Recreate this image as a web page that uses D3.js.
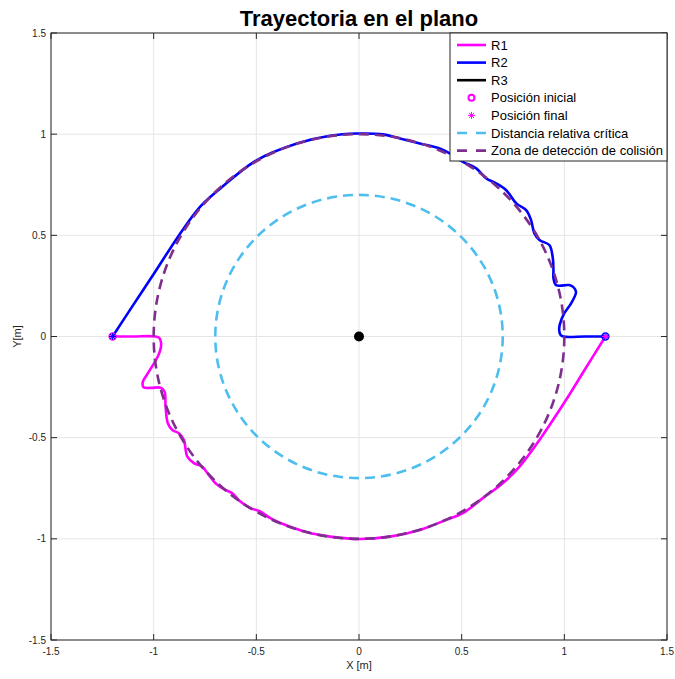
<!DOCTYPE html>
<html>
<head>
<meta charset="utf-8">
<script src="https://cdn.jsdelivr.net/npm/d3@7"></script>
<style>
  html, body { margin: 0; padding: 0; background: #fff; }
  svg { display: block; font-family: "Liberation Sans", Arial, sans-serif; }
</style>
</head>
<body>
<svg id="chart" width="675" height="679"></svg>
<script>
// Robot 1 trajectory: from (-1.2, 0) around the lower half of the detection zone to (1.2, 0)
const r1X = [-1.2, -1.1, -0.99, -0.972, -0.964, -0.966, -0.981, -1.024, -1.053, -1.049, -1.015, -0.966, -0.947, -0.942, -0.931, -0.909, -0.877, -0.853, -0.836, -0.804, -0.764, -0.732, -0.699, -0.650, -0.618, -0.578, -0.529, -0.481, -0.432, -0.383, -0.319, -0.254, -0.141, 0.005, 0.150, 0.296, 0.425, 0.506, 0.603, 0.700, 0.782, 0.879, 1.008, 1.1, 1.2];
const r1Y = [0, 0, 0, -0.008, -0.03, -0.06, -0.101, -0.175, -0.225, -0.251, -0.254, -0.253, -0.273, -0.347, -0.429, -0.462, -0.478, -0.511, -0.594, -0.626, -0.643, -0.684, -0.725, -0.758, -0.774, -0.816, -0.848, -0.865, -0.898, -0.922, -0.946, -0.968, -0.989, -1.001, -0.989, -0.956, -0.906, -0.873, -0.799, -0.725, -0.643, -0.511, -0.314, -0.163, 0];

// Robot 2 trajectory: from (1.2, 0) around the upper half to (-1.2, 0)
const r2X = [1.2, 1.1, 0.995, 0.98, 0.975, 0.978, 1.0, 1.033, 1.057, 1.044, 1.024, 0.960, 0.947, 0.947, 0.943, 0.927, 0.879, 0.854, 0.838, 0.814, 0.766, 0.717, 0.668, 0.620, 0.571, 0.506, 0.442, 0.393, 0.296, 0.199, 0.118, -0.011, -0.141, -0.302, -0.497, -0.675, -0.772, -0.869, -0.999, -1.1, -1.2];
const r2Y = [0, 0, 0, 0.01, 0.032, 0.06, 0.115, 0.164, 0.220, 0.244, 0.254, 0.254, 0.289, 0.328, 0.394, 0.452, 0.477, 0.510, 0.575, 0.625, 0.658, 0.723, 0.757, 0.781, 0.831, 0.863, 0.905, 0.929, 0.954, 0.979, 0.999, 1.003, 0.992, 0.954, 0.872, 0.732, 0.643, 0.512, 0.310, 0.155, 0];

// Robot 3 stays at the origin
const r3X = [0, 0];
const r3Y = [0, 0];

// Radii of the reference circles
const criticalRadius = 0.7;
const detectionRadius = 1.0;

// Axis ticks
const xTicks = [-1.5, -1, -0.5, 0, 0.5, 1, 1.5];
const yTicks = [-1.5, -1, -0.5, 0, 0.5, 1, 1.5];

const legendLabels = ["R1", "R2", "R3", "Posición inicial", "Posición final", "Distancia relativa crítica", "Zona de detección de colisión"];

const C = { r1: "#ff00ff", r2: "#0000ff", r3: "#000000", crit: "#4dbeee", zone: "#7e2f8e", axis: "#262626", grid: "#e5e5e5" };

const svg = d3.select("#chart");
const pL = 51, pR = 667, pT = 33, pB = 640;
const x = d3.scaleLinear().domain([-1.5, 1.5]).range([pL, pR]);
const y = d3.scaleLinear().domain([-1.5, 1.5]).range([pB, pT]);

// grid
const grid = svg.append("g");
grid.selectAll(".gx").data(xTicks).join("line")
  .attr("x1", d => x(d)).attr("x2", d => x(d)).attr("y1", pT).attr("y2", pB)
  .attr("stroke", C.grid).attr("stroke-width", 1);
grid.selectAll(".gy").data(yTicks).join("line")
  .attr("y1", d => y(d)).attr("y2", d => y(d)).attr("x1", pL).attr("x2", pR)
  .attr("stroke", C.grid).attr("stroke-width", 1);

// clip region for data
svg.append("clipPath").attr("id", "plotClip").append("rect")
  .attr("x", pL).attr("y", pT).attr("width", pR - pL).attr("height", pB - pT);
const plot = svg.append("g").attr("clip-path", "url(#plotClip)");

const line = d3.line().x(d => x(d[0])).y(d => y(d[1])).curve(d3.curveCatmullRom.alpha(0.5));
const zip = (a, b) => a.map((v, i) => [v, b[i]]);

plot.append("path").datum(zip(r1X, r1Y)).attr("d", line)
  .attr("fill", "none").attr("stroke", C.r1).attr("stroke-width", 2.6).attr("stroke-linejoin", "round");
plot.append("path").datum(zip(r2X, r2Y)).attr("d", line)
  .attr("fill", "none").attr("stroke", C.r2).attr("stroke-width", 2.6).attr("stroke-linejoin", "round");
plot.append("path").datum(zip(r3X, r3Y)).attr("d", line)
  .attr("fill", "none").attr("stroke", C.r3).attr("stroke-width", 2.6);

// markers
function asterisk(g, cx, cy, s, color) {
  const a = g.append("g").attr("stroke", color).attr("stroke-width", 1);
  a.append("line").attr("x1", cx - s).attr("x2", cx + s).attr("y1", cy).attr("y2", cy);
  a.append("line").attr("x1", cx).attr("x2", cx).attr("y1", cy - s).attr("y2", cy + s);
  const d = s * 0.72;
  a.append("line").attr("x1", cx - d).attr("x2", cx + d).attr("y1", cy - d).attr("y2", cy + d);
  a.append("line").attr("x1", cx - d).attr("x2", cx + d).attr("y1", cy + d).attr("y2", cy - d);
}
const starts = [[r1X[0], r1Y[0], C.r1], [r2X[0], r2Y[0], C.r2], [r3X[0], r3Y[0], C.r3]];
const ends = [[r1X[r1X.length - 1], r1Y[r1Y.length - 1], C.r1], [r2X[r2X.length - 1], r2Y[r2Y.length - 1], C.r2], [r3X[r3X.length - 1], r3Y[r3Y.length - 1], C.r3]];
starts.forEach(([px, py, c]) => {
  plot.append("circle").attr("cx", x(px)).attr("cy", y(py)).attr("r", c === C.r3 ? 4 : 3.2)
    .attr("fill", c === C.r3 ? c : "none").attr("stroke", c).attr("stroke-width", 2);
});
ends.forEach(([px, py, c]) => asterisk(plot, x(px), y(py), 3.5, c));

// reference circles
plot.append("ellipse").attr("cx", x(0)).attr("cy", y(0))
  .attr("rx", x(criticalRadius) - x(0)).attr("ry", y(0) - y(criticalRadius))
  .attr("fill", "none").attr("stroke", C.crit).attr("stroke-width", 2.6).attr("stroke-dasharray", "10,6");
plot.append("ellipse").attr("cx", x(0)).attr("cy", y(0))
  .attr("rx", x(detectionRadius) - x(0)).attr("ry", y(0) - y(detectionRadius))
  .attr("fill", "none").attr("stroke", C.zone).attr("stroke-width", 2.6).attr("stroke-dasharray", "10,6");

// axes box with inward ticks
const ax = svg.append("g");
ax.append("rect").attr("x", pL).attr("y", pT).attr("width", pR - pL).attr("height", pB - pT)
  .attr("fill", "none").attr("stroke", C.axis).attr("stroke-width", 1);
xTicks.forEach(t => {
  ax.append("line").attr("x1", x(t)).attr("x2", x(t)).attr("y1", pB).attr("y2", pB - 6).attr("stroke", C.axis);
  ax.append("line").attr("x1", x(t)).attr("x2", x(t)).attr("y1", pT).attr("y2", pT + 6).attr("stroke", C.axis);
});
yTicks.forEach(t => {
  ax.append("line").attr("y1", y(t)).attr("y2", y(t)).attr("x1", pL).attr("x2", pL + 6).attr("stroke", C.axis);
  ax.append("line").attr("y1", y(t)).attr("y2", y(t)).attr("x1", pR).attr("x2", pR - 6).attr("stroke", C.axis);
});
const fmt = d => String(d);
ax.selectAll(".xl").data(xTicks).join("text")
  .attr("x", d => x(d)).attr("y", pB + 15).attr("text-anchor", "middle")
  .attr("font-size", 10).attr("fill", C.axis).text(fmt);
ax.selectAll(".yl").data(yTicks).join("text")
  .attr("x", pL - 5).attr("y", d => y(d) + 3.5).attr("text-anchor", "end")
  .attr("font-size", 10).attr("fill", C.axis).text(fmt);

svg.append("text").attr("x", (pL + pR) / 2).attr("y", 669).attr("text-anchor", "middle")
  .attr("font-size", 11).attr("fill", C.axis).text("X [m]");
svg.append("text").attr("transform", `translate(21,${(pT + pB) / 2}) rotate(-90)`)
  .attr("text-anchor", "middle").attr("font-size", 11).attr("fill", C.axis).text("Y[m]");
svg.append("text").attr("x", (pL + pR) / 2).attr("y", 26).attr("text-anchor", "middle")
  .attr("font-size", 22).attr("font-weight", "bold").attr("fill", "#000").text("Trayectoria en el plano");

// legend
const lg = svg.append("g");
const lgX = 450, lgY = 33, lgW = pR - 450, lgH = 128;
lg.append("rect").attr("x", lgX).attr("y", lgY).attr("width", lgW).attr("height", lgH)
  .attr("fill", "#fff").attr("stroke", C.axis).attr("stroke-width", 1);
const rowY = i => 45 + i * 17.6;
const sx1 = 457, sx2 = 486, sxm = (sx1 + sx2) / 2;
const styles = [
  { type: "line", c: C.r1 }, { type: "line", c: C.r2 }, { type: "line", c: C.r3 },
  { type: "circle", c: C.r1 }, { type: "star", c: C.r1 },
  { type: "dash", c: C.crit }, { type: "dash", c: C.zone }
];
legendLabels.forEach((lab, i) => {
  const s = styles[i], yy = rowY(i);
  if (s.type === "line") {
    lg.append("line").attr("x1", sx1).attr("x2", sx2).attr("y1", yy).attr("y2", yy)
      .attr("stroke", s.c).attr("stroke-width", 2.6);
  } else if (s.type === "dash") {
    lg.append("line").attr("x1", sx1).attr("x2", sx2).attr("y1", yy).attr("y2", yy)
      .attr("stroke", s.c).attr("stroke-width", 2.6).attr("stroke-dasharray", "10,9");
  } else if (s.type === "circle") {
    lg.append("circle").attr("cx", sxm).attr("cy", yy).attr("r", 3).attr("fill", "none")
      .attr("stroke", s.c).attr("stroke-width", 2);
  } else {
    asterisk(lg, sxm, yy, 3.5, s.c);
  }
  lg.append("text").attr("x", 491).attr("y", yy + 4.5).attr("font-size", 13).attr("fill", "#000").text(lab);
});
</script>
</body>
</html>
